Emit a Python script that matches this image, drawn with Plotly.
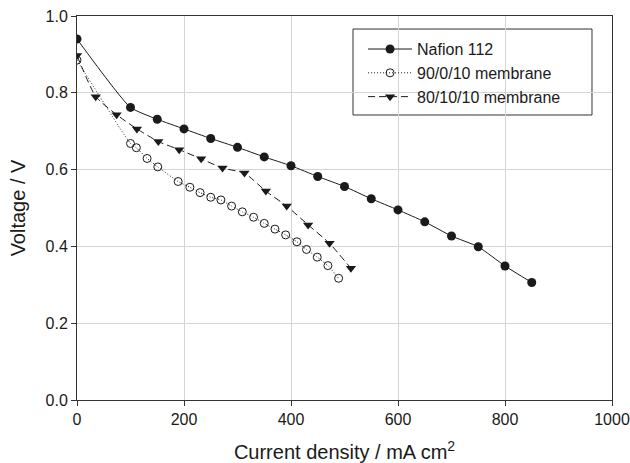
import plotly.graph_objects as go

# Nafion 112
nafion_x = [0, 100, 150, 200, 250, 300, 350, 400, 450, 500, 550, 600, 650, 700, 750, 800, 850]
nafion_y = [0.940, 0.762, 0.731, 0.706, 0.681, 0.658, 0.633, 0.610, 0.582, 0.556, 0.524,
            0.495, 0.464, 0.427, 0.399, 0.349, 0.306]

# 90/0/10 membrane
m90_x = [0, 100, 111, 131, 151, 189, 211, 230, 250, 269, 289, 309, 330, 350, 370, 390,
         411, 429, 449, 469, 489]
m90_y = [0.885, 0.668, 0.657, 0.629, 0.607, 0.569, 0.554, 0.540, 0.528, 0.521, 0.505,
         0.490, 0.476, 0.460, 0.445, 0.430, 0.412, 0.392, 0.372, 0.350, 0.317]

# 80/10/10 membrane
m80_x = [0, 35, 74, 112, 152, 191, 232, 272, 313, 353, 392, 432, 472, 512]
m80_y = [0.897, 0.790, 0.743, 0.706, 0.673, 0.652, 0.628, 0.604, 0.591, 0.544, 0.505,
         0.456, 0.408, 0.343]

x_ticks = [0, 200, 400, 600, 800, 1000]
y_ticks = [0.0, 0.2, 0.4, 0.6, 0.8, 1.0]
y_ticklabels = ["0.0", "0.2", "0.4", "0.6", "0.8", "1.0"]

FONT = "Liberation Sans, Arial, Helvetica, sans-serif"
INK = "#1a1a1a"

fig = go.Figure()
fig.add_trace(go.Scatter(
    x=nafion_x, y=nafion_y, name="Nafion 112", mode="lines+markers",
    line=dict(color=INK, width=1, shape="spline", smoothing=0.5),
    marker=dict(symbol="circle", size=9, color=INK),
))
fig.add_trace(go.Scatter(
    x=m90_x, y=m90_y, name="90/0/10 membrane", mode="lines+markers",
    line=dict(color=INK, width=1, dash="1px,2px", shape="spline", smoothing=0.5),
    marker=dict(symbol="circle-open", size=8, color=INK, line=dict(width=1, color=INK)),
))
fig.add_trace(go.Scatter(
    x=m80_x, y=m80_y, name="80/10/10 membrane", mode="lines+markers",
    line=dict(color=INK, width=1, dash="7px,4px", shape="spline", smoothing=0.5),
    marker=dict(symbol="triangle-down", size=9, color=INK),
))

axis_common = dict(
    showline=True, linecolor="#333333", linewidth=1, mirror=True,
    showgrid=True, gridcolor="#d4d4d4", gridwidth=1,
    ticks="outside", ticklen=5, tickwidth=1, tickcolor="#333333",
    tickfont=dict(family=FONT, size=16, color=INK),
    zeroline=False,
)

fig.update_layout(
    width=630, height=463,
    margin=dict(l=77, r=18, t=16, b=63, autoexpand=False),
    paper_bgcolor="white", plot_bgcolor="white",
    font=dict(family=FONT, size=16, color=INK),
    showlegend=True,
    legend=dict(
        x=0.516, y=0.958, xanchor="left", yanchor="top",
        borderwidth=0, bgcolor="rgba(0,0,0,0)",
        font=dict(family=FONT, size=16, color=INK),
        tracegroupgap=0, indentation=10, itemwidth=44,
    ),
    shapes=[dict(
        type="rect", xref="paper", yref="paper",
        x0=0.5159, x1=0.9626, y0=0.7422, y1=0.9661,
        line=dict(color="#333333", width=1), fillcolor="white", layer="below",
    )],
)
fig.update_xaxes(
    range=[0, 1000], tickvals=x_ticks,
    title=dict(text="Current density / mA cm<sup>2</sup>", font=dict(family=FONT, size=20, color=INK), standoff=18),
    **axis_common,
)
fig.update_yaxes(
    range=[0, 1.0], tickvals=y_ticks, ticktext=y_ticklabels,
    title=dict(text="Voltage / V", font=dict(family=FONT, size=20, color=INK), standoff=14),
    **axis_common,
)

fig.write_html("out.html")
